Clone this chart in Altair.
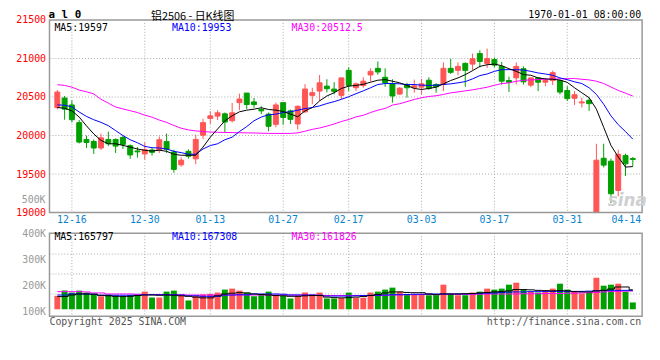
import altair as alt
import pandas as pd

# ---------------- data ----------------
OPEN = [20363, 20487, 20397, 20167, 19949, 19923, 19838, 19949, 19949, 19975,
        19868, 19800, 19761, 19812, 19808, 19923, 19786, 19620, 19795, 19697,
        20004, 20222, 20252, 20282, 20192, 20427, 20551, 20436, 20338, 20278,
        20145, 20427, 20320, 20150, 20308, 20521, 20577, 20641, 20603, 20521,
        20846, 20620, 20650, 20786, 20872, 20756, 20671, 20538, 20662, 20620,
        20628, 20718, 20662, 20662, 20872, 20846, 20936, 20927, 21064, 20936,
        20987, 20897, 20714, 20748, 20867, 20654, 20748, 20692, 20714, 20714,
        20585, 20483, 20423, 20457, 18900, 19705, 19667, 19287, 19740, 19701]
HIGH = [20590, 20513, 20457, 20201, 20000, 19949, 20026, 20051, 19962, 20000,
        19885, 19850, 19910, 19838, 19987, 20026, 19816, 19718, 19821, 20013,
        20218, 20316, 20329, 20299, 20423, 20543, 20551, 20487, 20380, 20299,
        20427, 20427, 20338, 20390, 20667, 20620, 20786, 20731, 20692, 20752,
        20885, 20688, 20756, 20872, 20962, 20872, 20731, 20628, 20684, 20726,
        20735, 20756, 20680, 20949, 20996, 20949, 20949, 21064, 21107, 21128,
        21013, 20957, 20765, 20949, 20897, 20750, 20750, 20748, 20842, 20714,
        20641, 20577, 20491, 20491, 19893, 19893, 19701, 19816, 19765, 19722]
LOW = [20340, 20205, 20171, 19897, 19838, 19761, 19812, 19863, 19774, 19825,
       19697, 19714, 19688, 19740, 19774, 19774, 19517, 19594, 19701, 19628,
       19953, 20150, 20201, 20043, 20171, 20329, 20342, 20359, 20278, 20056,
       20107, 20141, 20150, 20077, 20291, 20406, 20449, 20560, 20534, 20470,
       20577, 20577, 20620, 20701, 20790, 20632, 20427, 20530, 20491, 20555,
       20534, 20590, 20555, 20577, 20799, 20782, 20633, 20846, 20884, 20876,
       20884, 20662, 20564, 20662, 20662, 20628, 20577, 20641, 20654, 20534,
       20449, 20397, 20363, 20320, 18800, 19586, 19124, 19210, 19475, 19603]
CLOSE = [20564, 20342, 20205, 19915, 19910, 19838, 19970, 19893, 19863, 19885,
         19748, 19788, 19816, 19782, 19945, 19821, 19560, 19680, 19731, 19949,
         20167, 20256, 20295, 20175, 20295, 20474, 20402, 20402, 20320, 20120,
         20397, 20235, 20210, 20380, 20603, 20556, 20684, 20607, 20573, 20748,
         20650, 20671, 20705, 20833, 20825, 20684, 20513, 20615, 20620, 20645,
         20671, 20611, 20632, 20872, 20820, 20897, 20846, 20996, 20961, 21000,
         20914, 20705, 20692, 20897, 20697, 20748, 20692, 20714, 20816, 20564,
         20479, 20530, 20436, 20414, 19680, 19616, 19244, 19757, 19633, 19689]
MA5 = [20363, 20355, 20320, 20240, 20125, 20021, 19936, 19893, 19893, 19872,
       19850, 19825, 19808, 19799, 19810, 19795, 19757, 19744, 19744, 19744,
       19850, 19979, 20085, 20192, 20256, 20308, 20329, 20342, 20360, 20338,
       20329, 20312, 20278, 20244, 20320, 20363, 20449, 20513, 20556, 20611,
       20641, 20650, 20665, 20692, 20718, 20726, 20705, 20684, 20650, 20611,
       20598, 20611, 20628, 20671, 20714, 20748, 20790, 20842, 20897, 20919,
       20927, 20906, 20867, 20833, 20791, 20782, 20748, 20735, 20730, 20720,
       20690, 20620, 20555, 20491, 20342, 20107, 19872, 19722, 19590, 19597]
MA10 = [20398, 20393, 20372, 20305, 20248, 20205, 20171, 20128, 20064, 20000,
        19945, 19906, 19859, 19842, 19838, 19825, 19795, 19778, 19757, 19757,
        19825, 19870, 19893, 19945, 19979, 20051, 20116, 20192, 20240, 20269,
        20278, 20299, 20308, 20329, 20350, 20363, 20385, 20415, 20440, 20470,
        20504, 20543, 20580, 20620, 20662, 20675, 20675, 20671, 20662, 20662,
        20654, 20650, 20654, 20662, 20671, 20684, 20700, 20735, 20778, 20799,
        20833, 20855, 20855, 20855, 20850, 20833, 20812, 20799, 20782, 20748,
        20725, 20697, 20675, 20620, 20534, 20406, 20256, 20141, 20051, 19953]
MA30 = [20660, 20650, 20628, 20590, 20568, 20540, 20470, 20420, 20370, 20345,
        20322, 20298, 20265, 20238, 20200, 20171, 20130, 20095, 20073, 20060,
        20052, 20045, 20042, 20040, 20038, 20036, 20035, 20033, 20030, 20028,
        20027, 20027, 20028, 20034, 20056, 20080, 20098, 20122, 20150, 20182,
        20208, 20242, 20262, 20299, 20329, 20352, 20395, 20413, 20440, 20468,
        20490, 20507, 20516, 20533, 20554, 20566, 20580, 20593, 20610, 20627,
        20652, 20674, 20684, 20704, 20717, 20722, 20726, 20731, 20733, 20736,
        20738, 20740, 20730, 20722, 20705, 20675, 20630, 20585, 20550, 20512.5]
VOL = [158900, 179000, 171400, 179000, 171400, 166500, 157300, 163800, 158900, 155000,
       161100, 163800, 175200, 152400, 152400, 175200, 179000, 161100, 141000, 158900,
       163800, 166500, 171400, 182900, 186700, 179000, 171400, 157300, 162700, 175200,
       162700, 160000, 148600, 158900, 171400, 162700, 171400, 148600, 148600, 151200,
       171400, 151200, 151200, 171400, 175200, 182900, 190500, 175200, 163800, 163800,
       163800, 161100, 161100, 201900, 166500, 161100, 161100, 171400, 175200, 186700,
       182900, 186700, 201900, 209500, 182900, 175200, 171400, 175200, 186700, 205700,
       182900, 175200, 167600, 171400, 228600, 198000, 201900, 205700, 175200, 133300]
VOL_MA5 = [156000, 156000, 162000, 166000, 166000, 165000, 161000, 159000, 157000, 156000,
           157000, 160000, 162000, 162000, 161000, 162000, 161000, 159000, 157000, 154000,
           151000, 151000, 159000, 166000, 169000, 171000, 170000, 166000, 164000, 162000,
           160000, 159000, 157000, 157000, 159000, 160000, 160000, 154000, 152000, 151000,
           152000, 154000, 156000, 160000, 164000, 170000, 174000, 174000, 172000, 171000,
           171000, 166000, 163000, 166000, 166000, 166000, 167000, 168000, 170000, 172000,
           174000, 175000, 178000, 183000, 183000, 182000, 180000, 179000, 178000, 179000,
           178000, 175000, 174000, 174000, 178000, 180000, 185000, 193000, 193000, 182000]
VOL_MA10 = [162000, 162000, 166000, 166000, 166000, 165000, 161000, 161000, 161000, 161000,
            161000, 161000, 163000, 163000, 163000, 163000, 163000, 162000, 159000, 159000,
            157000, 157000, 157000, 162000, 162000, 163000, 163000, 166000, 166000, 166000,
            166000, 165000, 162000, 162000, 162000, 162000, 161000, 158000, 158000, 158000,
            158000, 159000, 160000, 161000, 161000, 162000, 163000, 163000, 164000, 165000,
            165000, 166000, 166000, 166000, 166000, 166000, 166000, 167000, 168000, 169000,
            170000, 172000, 173000, 174000, 174000, 175000, 175000, 176000, 176000, 176000,
            176000, 176000, 176000, 177000, 178000, 179000, 180000, 180000, 180000, 179000]
VOL_MA30 = [175000, 175000, 175000, 175000, 174000, 170000, 170000, 166000, 166000, 166000,
            166000, 165000, 164000, 164000, 164000, 164000, 163000, 163000, 162000, 162000,
            162000, 162000, 162000, 162000, 162000, 162000, 162000, 162000, 162000, 162000,
            162000, 162000, 162000, 162000, 162000, 162000, 161000, 160000, 160000, 160000,
            160000, 160000, 160000, 160000, 160000, 161000, 162000, 163000, 163000, 163000,
            164000, 164000, 164000, 164000, 165000, 165000, 165000, 165000, 165000, 166000,
            166000, 166000, 166000, 166000, 167000, 167000, 167000, 168000, 168000, 168000,
            169000, 169000, 170000, 171000, 172000, 174000, 175000, 176000, 177000, 178000]

DATE_IDX = [2, 12, 21, 31, 40, 50, 60, 70]
DATE_LABELS = ["12-16", "12-30", "01-13", "01-27", "02-17", "03-03", "03-17", "03-31"]
LAST_DATE = "04-14"
PRICE_TICKS = [19000, 19500, 20000, 20500, 21000, 21500]
PRICE_GRID = [19500, 20000, 20500, 21000]
VOL_TICKS = [100000, 200000, 300000, 400000]
VOL_GRID = [166000, 243000, 320000]
VOL_BASE = 107000

# ---------------- table ----------------
n = len(CLOSE)
df = pd.DataFrame({
    "i": list(range(n)), "open": OPEN, "high": HIGH, "low": LOW, "close": CLOSE,
    "ma5": MA5, "ma10": MA10, "ma30": MA30,
    "vol": VOL, "vma5": VOL_MA5, "vma10": VOL_MA10, "vma30": VOL_MA30,
})
df["dir"] = ["up" if c > o else "down" for o, c in zip(OPEN, CLOSE)]
df["vbase"] = VOL_BASE
dates = pd.DataFrame({"i": DATE_IDX, "label": DATE_LABELS})

MONO = "DejaVu Sans Mono"
RED, GREEN = "#FF5555", "#00A000"
W, PH, VT, VB = 600, 195, 216, 300

xs = alt.Scale(domain=[-0.4, 79.6], nice=False, zero=False)
X = alt.X("i:Q", scale=xs, axis=None)
py = alt.Scale(domain=[19000, 21500], range=[PH, 0], nice=False, zero=False, clamp=True)
vy = alt.Scale(domain=[80000, 400000], range=[VB, VT], nice=False, zero=False)
cs = alt.Scale(domain=["up", "down"], range=[RED, GREEN])

price_axis = alt.Axis(values=PRICE_TICKS, format="d", labelColor="#FF0000", labelFont=MONO,
                      labelFontSize=10, labelPadding=4, grid=False, domain=False, ticks=False,
                      title=None, orient="left")
vol_axis = alt.Axis(values=VOL_TICKS, labelExpr="format(datum.value/1000, 'd') + 'K'",
                    labelColor="#999999", labelFont=MONO, labelFontSize=10, labelPadding=4,
                    grid=False, domain=False, ticks=False, title=None, orient="left")

base = alt.Chart(df)

# price panel
p_grid = alt.Chart(pd.DataFrame({"p": PRICE_GRID})).mark_rule(
    color="#AAAAAA", strokeDash=[1, 2], strokeWidth=1).encode(
    y=alt.Y("p:Q", scale=py, axis=price_axis), x=alt.value(0), x2=alt.value(W))
wicks = base.mark_rule(strokeWidth=1).encode(
    x=X, y=alt.Y("low:Q", scale=py, axis=price_axis), y2="high:Q",
    color=alt.Color("dir:N", scale=cs, legend=None))
bodies = base.mark_bar(size=5, strokeWidth=1).encode(
    x=X, y=alt.Y("open:Q", scale=py, axis=price_axis), y2="close:Q",
    color=alt.Color("dir:N", scale=cs, legend=None),
    stroke=alt.Stroke("dir:N", scale=cs, legend=None))
ma30 = base.mark_line(color="#FF00FF", strokeWidth=1).encode(x=X, y=alt.Y("ma30:Q", scale=py, axis=price_axis))
ma10 = base.mark_line(color="#0000FF", strokeWidth=1).encode(x=X, y=alt.Y("ma10:Q", scale=py, axis=price_axis))
ma5 = base.mark_line(color="#000000", strokeWidth=1).encode(x=X, y=alt.Y("ma5:Q", scale=py, axis=price_axis))
price = alt.layer(p_grid, wicks, bodies, ma30, ma10, ma5)

# volume panel
v_grid = alt.Chart(pd.DataFrame({"g": VOL_GRID})).mark_rule(
    color="#AAAAAA", strokeDash=[1, 2], strokeWidth=1).encode(
    y=alt.Y("g:Q", scale=vy, axis=vol_axis), x=alt.value(0), x2=alt.value(W))
vbars = base.mark_bar(size=6).encode(
    x=X, y=alt.Y("vol:Q", scale=vy, axis=vol_axis), y2="vbase:Q",
    color=alt.Color("dir:N", scale=cs, legend=None))
vma30 = base.mark_line(color="#FF00FF", strokeWidth=1, interpolate="step").encode(x=X, y=alt.Y("vma30:Q", scale=vy, axis=vol_axis))
vma10 = base.mark_line(color="#0000FF", strokeWidth=1, interpolate="step").encode(x=X, y=alt.Y("vma10:Q", scale=vy, axis=vol_axis))
vma5 = base.mark_line(color="#000000", strokeWidth=1, interpolate="step").encode(x=X, y=alt.Y("vma5:Q", scale=vy, axis=vol_axis))
volume = alt.layer(v_grid, vbars, vma30, vma10, vma5)

# vertical grid lines
vg1 = alt.Chart(dates).mark_rule(color="#AAAAAA", strokeDash=[1, 2]).encode(
    x=X, y=alt.value(0), y2=alt.value(PH))
vg2 = alt.Chart(dates).mark_rule(color="#AAAAAA", strokeDash=[1, 2]).encode(
    x=X, y=alt.value(VT), y2=alt.value(VB))
date_txt = alt.Chart(dates).mark_text(font=MONO, fontSize=10, color="#0A84D0", baseline="middle").encode(
    x=X, y=alt.value(203), text="label:N")

def frame(y0, y1):
    return alt.Chart(pd.DataFrame({"f": [0]})).mark_rect(
        fill="white", fillOpacity=0, stroke="#999999", strokeWidth=1.5).encode(
        x=alt.value(0), x2=alt.value(W), y=alt.value(y0), y2=alt.value(y1))

def txt(s, x, y, color, size=10, align="left", weight="normal", font=MONO, style="normal"):
    return alt.Chart(pd.DataFrame({"t": [s]})).mark_text(
        font=font, fontSize=size, color=color, align=align, baseline="middle",
        fontWeight=weight, fontStyle=style).encode(
        text="t:N", x=alt.value(x), y=alt.value(y))

texts = [
    txt("a l 0", -1, -5, "#000000", size=11, weight="bold"),
    txt("铝2506 - 日K线图", 145, -3, "#000000", size=11, align="center", font="Noto Sans CJK SC"),
    txt("1970-01-01 08:00:00", 599, -5, "#000000", align="right"),
    txt("MA5:19597", 5, 8, "#000000"),
    txt("MA10:19953", 124, 8, "#0000FF"),
    txt("MA30:20512.5", 245, 8, "#FF00FF"),
    txt("MA5:165797", 5, 220, "#000000"),
    txt("MA10:167308", 124, 220, "#0000FF"),
    txt("MA30:161826", 245, 220, "#FF00FF"),
    txt("500K", -4, 182, "#999999", align="right"),
    txt(LAST_DATE, 599, 203, "#0A84D0", align="right"),
    txt("Copyright 2025 SINA.COM", 0, 306, "#555555"),
    txt("http://finance.sina.com.cn", 599, 306, "#555555", align="right"),
    txt("sina", 585, 183, "#D0D0D0", size=17, align="center", weight="bold",
        font="DejaVu Sans", style="italic"),
]

chart = alt.layer(
    vg1, vg2, price, volume, date_txt, frame(0, PH), frame(VT, VB), *texts
).resolve_scale(y="independent").properties(
    width=W, height=VB,
    autosize=alt.AutoSizeParams(type="none"),
    padding={"left": 42, "top": 10, "right": 10, "bottom": 30},
).configure_view(strokeWidth=0)

chart.save("out.html", embed_options={"renderer": "svg", "actions": False})
